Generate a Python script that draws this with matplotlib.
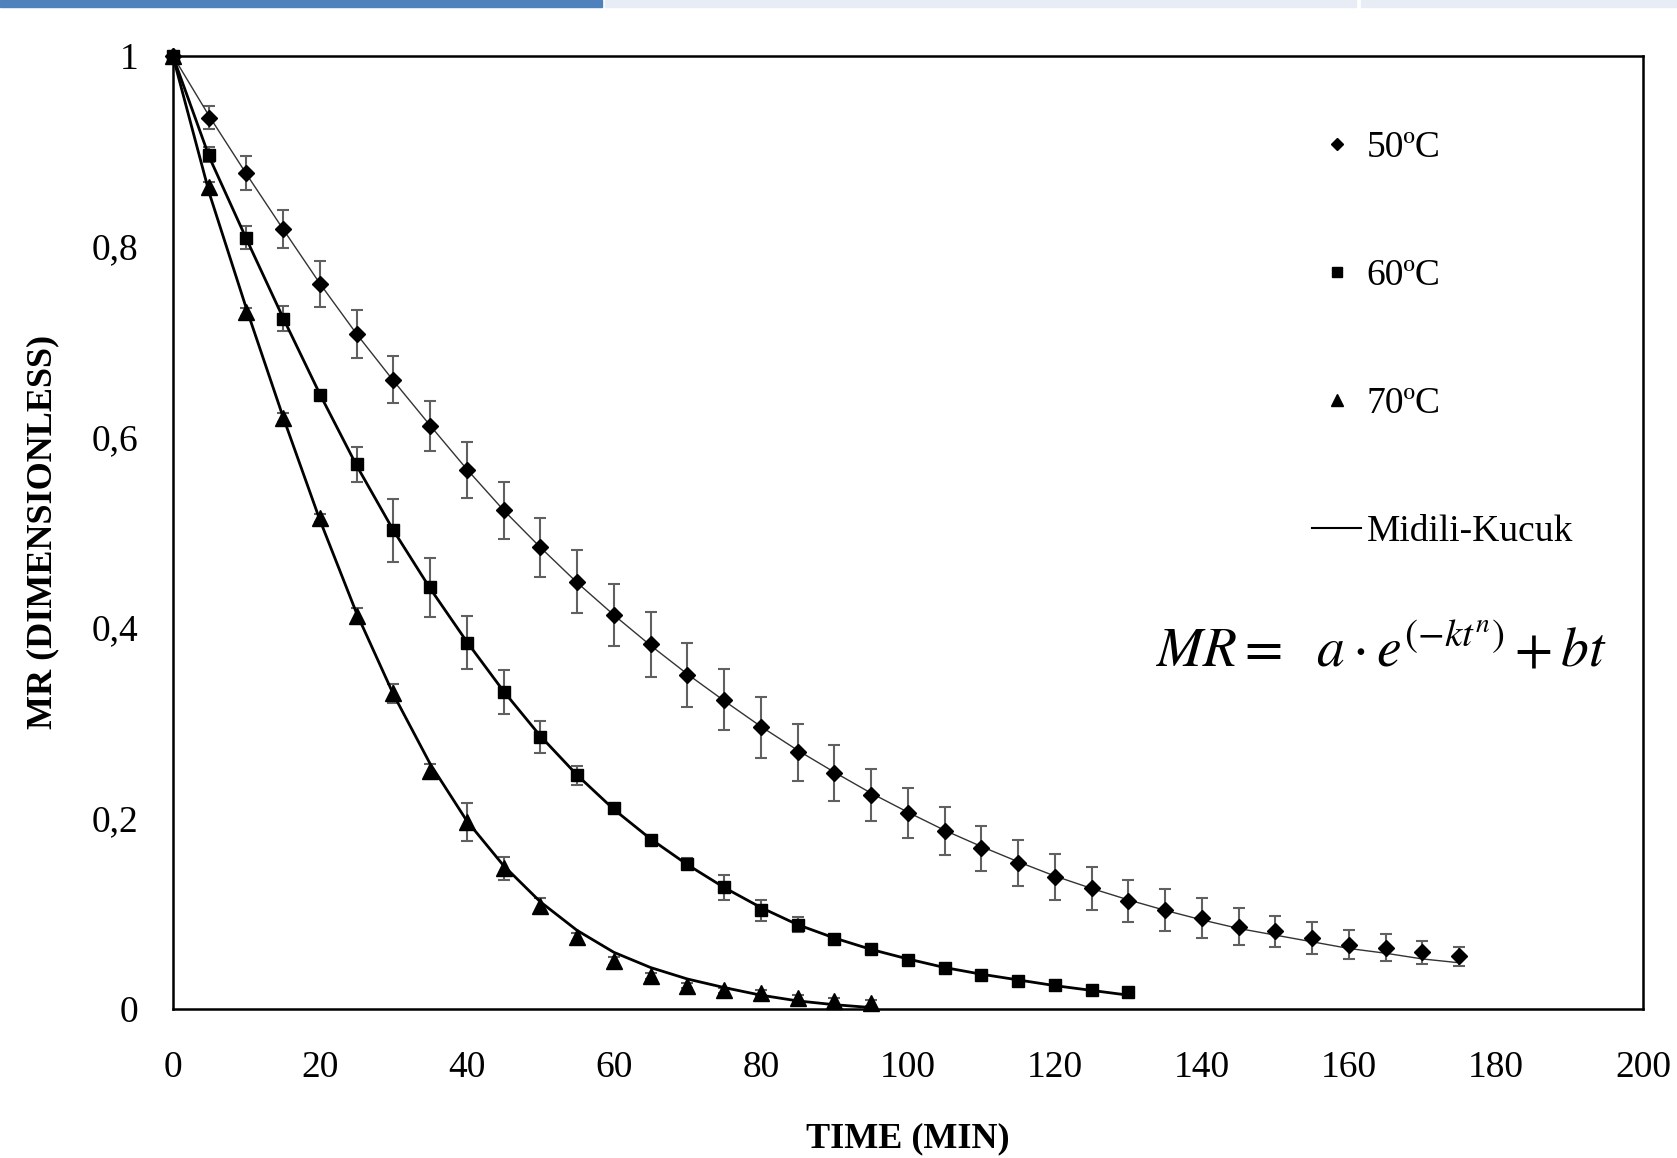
import numpy as np
import matplotlib
matplotlib.use("Agg")
import matplotlib.pyplot as plt
from matplotlib.patches import Rectangle

plt.rcParams['font.family'] = ['Liberation Serif', 'DejaVu Serif']
plt.rcParams['mathtext.fontset'] = 'stix'

# time (min)
t50 = [0, 5, 10, 15, 20, 25, 30, 35, 40, 45, 50, 55, 60, 65, 70, 75, 80, 85,
       90, 95, 100, 105, 110, 115, 120, 125, 130, 135, 140, 145, 150, 155,
       160, 165, 170, 175]
t60 = [0, 5, 10, 15, 20, 25, 30, 35, 40, 45, 50, 55, 60, 65, 70, 75, 80, 85,
       90, 95, 100, 105, 110, 115, 120, 125, 130]
t70 = [0, 5, 10, 15, 20, 25, 30, 35, 40, 45, 50, 55, 60, 65, 70, 75, 80, 85,
       90, 95]

# experimental MR
mr50 = [1.0, 0.935, 0.877, 0.818, 0.760, 0.708, 0.660, 0.611, 0.565, 0.523,
        0.484, 0.448, 0.413, 0.382, 0.350, 0.324, 0.295, 0.269, 0.247, 0.224,
        0.205, 0.186, 0.168, 0.153, 0.138, 0.126, 0.113, 0.103, 0.095, 0.086,
        0.081, 0.074, 0.067, 0.064, 0.059, 0.055]
mr60 = [1.0, 0.896, 0.809, 0.724, 0.644, 0.571, 0.502, 0.442, 0.384, 0.332,
        0.285, 0.245, 0.210, 0.177, 0.152, 0.127, 0.103, 0.088, 0.073, 0.062,
        0.051, 0.042, 0.035, 0.029, 0.025, 0.019, 0.017]
mr70 = [1.0, 0.862, 0.731, 0.620, 0.515, 0.412, 0.331, 0.249, 0.196, 0.147,
        0.108, 0.075, 0.050, 0.034, 0.024, 0.019, 0.016, 0.011, 0.008, 0.006]

# standard deviation (error bars)
err50 = [0.0, 0.012, 0.018, 0.020, 0.024, 0.025, 0.025, 0.026, 0.029, 0.030,
         0.031, 0.033, 0.033, 0.034, 0.034, 0.032, 0.032, 0.030, 0.029, 0.027,
         0.026, 0.025, 0.024, 0.024, 0.024, 0.023, 0.022, 0.022, 0.021, 0.019,
         0.016, 0.017, 0.015, 0.014, 0.012, 0.010]
err60 = [0.0, 0.008, 0.012, 0.013, 0.004, 0.018, 0.033, 0.031, 0.028, 0.023,
         0.017, 0.010, 0.004, 0.004, 0.006, 0.013, 0.011, 0.008, 0.004, 0.004,
         0.004, 0.003, 0.003, 0.003, 0.003, 0.003, 0.003]
err70 = [0.0, 0.005, 0.004, 0.005, 0.004, 0.008, 0.010, 0.008, 0.020, 0.012,
         0.008, 0.004, 0.004, 0.003, 0.003, 0.003, 0.003, 0.003, 0.003, 0.003]

# Midili-Kucuk fitted MR
fit50 = [1.0, 0.936, 0.876, 0.818, 0.761, 0.708, 0.659, 0.612, 0.566, 0.523,
         0.484, 0.447, 0.413, 0.381, 0.351, 0.323, 0.296, 0.271, 0.248, 0.226,
         0.206, 0.187, 0.170, 0.154, 0.139, 0.126, 0.114, 0.103, 0.093, 0.084,
         0.077, 0.070, 0.063, 0.058, 0.052, 0.048]
fit60 = [1.0, 0.893, 0.808, 0.725, 0.645, 0.570, 0.502, 0.441, 0.385, 0.333,
         0.286, 0.245, 0.209, 0.178, 0.151, 0.127, 0.106, 0.088, 0.074, 0.062,
         0.052, 0.043, 0.036, 0.030, 0.024, 0.019, 0.014]
fit70 = [1.0, 0.855, 0.735, 0.621, 0.513, 0.415, 0.330, 0.257, 0.197, 0.150,
         0.112, 0.082, 0.059, 0.043, 0.031, 0.022, 0.014, 0.008, 0.004, 0.001]

yticks = [0, 0.2, 0.4, 0.6, 0.8, 1.0]
ytick_labels = ['0', '0,2', '0,4', '0,6', '0,8', '1']
xticks = [0, 20, 40, 60, 80, 100, 120, 140, 160, 180, 200]

fig = plt.figure(figsize=(16.77, 11.58), dpi=100)

# document header strip
fig.patches.append(Rectangle((0, 1 - 7 / 1158), 602 / 1677, 7 / 1158,
                             transform=fig.transFigure, color='#4F81BD', zorder=0))
fig.patches.append(Rectangle((605 / 1677, 1 - 7 / 1158), 751 / 1677, 7 / 1158,
                             transform=fig.transFigure, color='#E8EDF5', zorder=0))
fig.patches.append(Rectangle((1361 / 1677, 1 - 7 / 1158), 316 / 1677, 7 / 1158,
                             transform=fig.transFigure, color='#E8EDF5', zorder=0))

ax = fig.add_axes([0.1030, 0.1291, 0.8767, 0.8229])

ebar_kw = dict(fmt='none', ecolor='#606060', elinewidth=1.5, capsize=4,
               capthick=1.5, zorder=2)
ax.errorbar(t50, mr50, yerr=err50, **ebar_kw)
ax.errorbar(t60, mr60, yerr=err60, **ebar_kw)
ax.errorbar(t70, mr70, yerr=err70, **ebar_kw)

ax.plot(t50, fit50, color='#333333', linewidth=1.0, zorder=3)
ax.plot(t60, fit60, color='black', linewidth=2.0, zorder=3)
ax.plot(t70, fit70, color='black', linewidth=2.0, zorder=3)

h50, = ax.plot(t50, mr50, linestyle='none', marker='D', markersize=8,
               color='black', zorder=4, clip_on=False)
h60, = ax.plot(t60, mr60, linestyle='none', marker='s', markersize=9,
               color='black', zorder=4, clip_on=False)
h70, = ax.plot(t70, mr70, linestyle='none', marker='^', markersize=11,
               color='black', zorder=4, clip_on=False)

ax.set_xlim(0, 200)
ax.set_ylim(0, 1)
ax.set_xticks(xticks)
ax.set_yticks(yticks)
ax.set_yticklabels(ytick_labels)
ax.tick_params(axis='both', length=0, labelsize=27)
ax.tick_params(axis='x', pad=30)
ax.tick_params(axis='y', pad=25)
for s in ax.spines.values():
    s.set_linewidth(1.8)
    s.set_color('black')

ax.set_xlabel('TIME (MIN)', fontsize=26, fontweight='bold', labelpad=27)
ax.set_ylabel('MR (DIMENSIONLESS)', fontsize=26, fontweight='bold', labelpad=23)

l_fit_leg = plt.Line2D([], [], color='black', linewidth=1.5)
leg = ax.legend([h50, h60, h70, l_fit_leg],
                ['50ºC', '60ºC', '70ºC', 'Midili-Kucuk'],
                loc='upper left', bbox_to_anchor=(0.775, 0.921),
                frameon=False, fontsize=27, labelspacing=2.49,
                handlelength=1.3, handletextpad=0.15, markerscale=0.75,
                borderpad=0, borderaxespad=0)

ax.text(0.822, 0.374, r'$MR=\ \ a\cdot e^{(-kt^{n})}+bt$', transform=ax.transAxes,
        fontsize=40, ha='center', va='center')

fig.savefig('out.png', dpi=100)
